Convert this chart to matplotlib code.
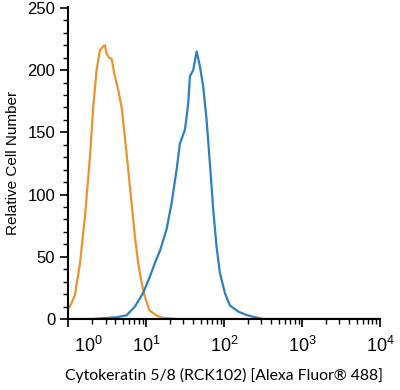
import numpy as np
import matplotlib
matplotlib.use('Agg')
import matplotlib.pyplot as plt
import matplotlib.transforms as mtrans
from matplotlib.ticker import LogLocator, MultipleLocator, NullFormatter

plt.rcParams['font.family'] = ['Liberation Sans', 'DejaVu Sans']
plt.rcParams['mathtext.fontset'] = 'custom'
plt.rcParams['mathtext.rm'] = 'Liberation Sans'
plt.rcParams['mathtext.it'] = 'Liberation Sans'

# isotype control (orange)
iso_x = [0.9, 1.0, 1.045, 1.21, 1.41, 1.63, 1.89, 2.08, 2.30, 2.54, 2.80, 2.94, 3.09,
         3.34, 3.59, 3.95, 4.36, 4.82, 5.31, 5.86, 6.47, 7.14, 7.87, 8.71, 9.59,
         10.96, 13.6, 16.3, 25, 100, 10000]
iso_y = [7, 9, 10, 19, 45, 82, 130, 170, 200, 216, 219, 220, 213,
         210, 209, 195, 184, 170, 146, 120, 93, 66, 45, 29, 18,
         7, 2.7, 1, 0, 0, 0]

# Cytokeratin 5/8 stained (blue)
ck_x = [0.9, 1.0, 2.0, 4.16, 5.58, 7.14, 9.12, 11.1, 12.9, 15.0, 18.2, 21.1, 24.5, 27.0,
        31.3, 34.5, 36.3, 40.0, 44.3, 48.8, 53.7, 59.4, 65.5, 72.3, 79.8, 88.1,
        102, 118, 151, 194, 248, 320, 1000, 10000]
ck_y = [0, 0, 0, 1.4, 3, 10, 21, 34, 45, 55, 72, 93, 120, 141,
        152, 173, 195, 200, 215, 203, 187, 160, 125, 88, 58, 37,
        21, 11, 6, 3.2, 1.4, 0, 0, 0]

fig = plt.figure(figsize=(4, 3.9), dpi=100)
ax = fig.add_axes([0.171, 0.182, 0.779, 0.801])

ax.plot(iso_x, iso_y, color='#e8952f', lw=1.6)
ax.plot(ck_x, ck_y, color='#2b80c1', lw=1.6)

ax.set_xscale('log')
ax.set_xlim(1, 1e4)
ax.set_ylim(0, 251)

ax.xaxis.set_minor_locator(LogLocator(base=10, subs=np.arange(2, 10), numticks=20))
ax.xaxis.set_minor_formatter(NullFormatter())
ax.set_xticks([1, 10, 100, 1000, 10000])
ax.set_xticklabels(['$10^{0}$', '$10^{1}$', '$10^{2}$', '$10^{3}$', '$10^{4}$'])
ax.yaxis.set_major_locator(MultipleLocator(50))
ax.yaxis.set_minor_locator(MultipleLocator(10))

for s in ['top', 'right']:
    ax.spines[s].set_visible(False)
for s in ['left', 'bottom']:
    ax.spines[s].set_linewidth(1.5)

ax.tick_params(which='major', length=6, width=1.2, direction='out', labelsize=12)
ax.tick_params(which='minor', length=3.5, width=1.0, direction='out')
ax.tick_params(axis='x', which='major', pad=6, labelsize=13)

# first x label sits to the right of the spine
first = ax.get_xticklabels()[0]
first.set_transform(first.get_transform() + mtrans.ScaledTranslation(0.2, 0, fig.dpi_scale_trans))

ax.set_ylabel('Relative Cell Number', fontsize=11, labelpad=5)
ax.set_xlabel('Cytokeratin 5/8 (RCK102) [Alexa Fluor\u00ae 488]', fontsize=11.3,
              family='Lato', labelpad=9)

fig.savefig('out.png', dpi=100)
